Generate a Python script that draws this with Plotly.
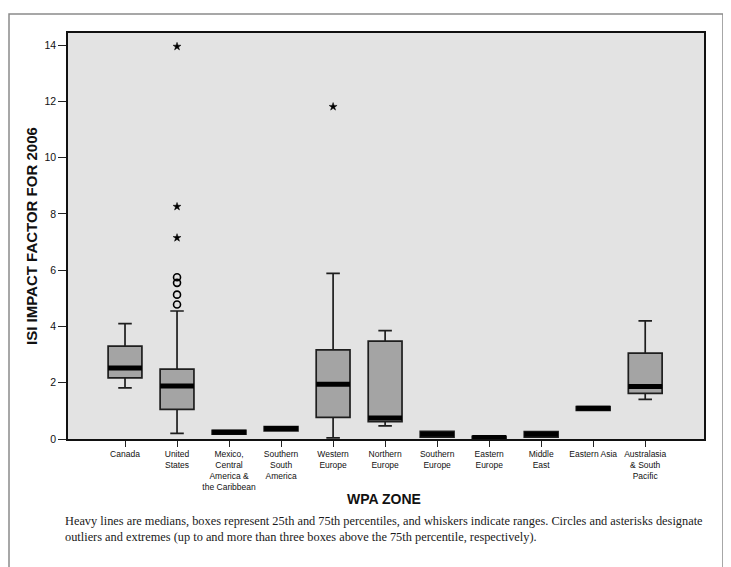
import plotly.graph_objects as go

# ---- data ----
zones = ["Canada", "United<br>States", "Mexico,<br>Central<br>America &<br>the Caribbean",
         "Southern<br>South<br>America", "Western<br>Europe", "Northern<br>Europe",
         "Southern<br>Europe", "Eastern<br>Europe", "Middle<br>East", "Eastern Asia",
         "Australasia<br>& South<br>Pacific"]
lower = [1.82, 0.20, 0.17, 0.29, 0.04, 0.47, 0.07, 0.00, 0.07, 1.02, 1.41]
q1 = [2.17, 1.05, 0.17, 0.29, 0.77, 0.62, 0.07, 0.00, 0.07, 1.02, 1.62]
median = [2.52, 1.88, 0.24, 0.37, 1.95, 0.75, 0.17, 0.05, 0.17, 1.09, 1.87]
q3 = [3.30, 2.48, 0.31, 0.44, 3.17, 3.48, 0.27, 0.09, 0.26, 1.15, 3.05]
upper = [4.10, 4.55, 0.31, 0.44, 5.89, 3.85, 0.27, 0.09, 0.26, 1.15, 4.20]

# outliers (circles) and extremes (asterisks): (zone index, value)
outlier_zone = [1, 1, 1, 1]
outlier_val = [5.75, 5.55, 5.13, 4.78]
extreme_zone = [1, 1, 1, 4]
extreme_val = [13.95, 8.26, 7.15, 11.81]

y_ticks = [0, 2, 4, 6, 8, 10, 12, 14]

caption = ("Heavy lines are medians, boxes represent 25th and 75th percentiles, and whiskers indicate ranges. "
           "Circles and asterisks designate<br>outliers and extremes (up to and more than three boxes above "
           "the 75th percentile, respectively).")

# ---- figure ----
BOX_W = 0.65
idx = list(range(len(zones)))

fig = go.Figure()
fig.add_trace(go.Box(
    x=idx, q1=q1, median=median, q3=q3, lowerfence=lower, upperfence=upper,
    width=BOX_W, whiskerwidth=0.4, fillcolor="#a4a4a4",
    line=dict(color="#1e1e1e", width=1.7), boxpoints=False, hoverinfo="skip",
    showlegend=False))

mx, my = [], []
for i, m in zip(idx, median):
    mx += [i - BOX_W / 2, i + BOX_W / 2, None]
    my += [m, m, None]
fig.add_trace(go.Scatter(x=mx, y=my, mode="lines", line=dict(color="black", width=5),
                         showlegend=False, hoverinfo="skip"))

fig.add_trace(go.Scatter(x=outlier_zone, y=outlier_val, mode="markers",
                         marker=dict(symbol="circle-open", size=7, color="black",
                                     line=dict(width=1.6, color="black")),
                         showlegend=False, hoverinfo="skip"))
fig.add_trace(go.Scatter(x=extreme_zone, y=extreme_val, mode="markers",
                         marker=dict(symbol="star", size=6, color="black",
                                     line=dict(width=0.5, color="black")),
                         showlegend=False, hoverinfo="skip"))

# page body has an 8px margin; lay out in page pixels and shift
OFF = 8
W, H = 731 - OFF, 567 - OFF
L, R, T, B = 68 - OFF, 704 - OFF, 33 - OFF, 439 - OFF


def px(x):
    return (x - OFF - L) / (R - L)


def py(y):
    return (B - (y - OFF)) / (B - T)


fig.update_layout(
    width=W, height=H,
    margin=dict(l=L, r=W - R, t=T, b=H - B, pad=0),
    paper_bgcolor="white", plot_bgcolor="#e3e3e3",
    font=dict(family="Liberation Sans, Arial, sans-serif", color="#111"),
    xaxis=dict(range=[-1.096, 11.13], tickmode="array", tickvals=idx, ticktext=zones,
               showgrid=False, zeroline=False, showline=True, linecolor="#111",
               linewidth=1.6, mirror=True, ticks="outside", ticklen=6, tickwidth=1.2,
               tickcolor="#222", tickfont=dict(size=8.5, color="#111")),
    yaxis=dict(range=[0, 14.43], tickmode="array", tickvals=y_ticks,
               showgrid=False, zeroline=False, showline=True, linecolor="#111",
               linewidth=1.6, mirror=True, ticks="outside", ticklen=8, tickwidth=1.2,
               tickcolor="#222", tickfont=dict(size=10.5, color="#111")),
    shapes=[dict(type="rect", xref="paper", yref="paper",
                 x0=px(9), x1=px(723), y0=py(580), y1=py(14),
                 line=dict(color="#8a8a8a", width=1.5), fillcolor="rgba(0,0,0,0)",
                 layer="below")],
    annotations=[
        dict(text="<b>ISI IMPACT FACTOR FOR 2006</b>", xref="paper", yref="paper",
             x=px(31), y=0.5, textangle=-90, showarrow=False,
             font=dict(size=15, color="#111"), xanchor="center", yanchor="middle"),
        dict(text="<b>WPA ZONE</b>", xref="paper", yref="paper",
             x=px(384), y=py(499), showarrow=False,
             font=dict(size=14, color="#111"), xanchor="center", yanchor="middle"),
        dict(text=caption, xref="paper", yref="paper", x=px(63), y=py(529),
             showarrow=False, align="left", xanchor="left", yanchor="middle",
             font=dict(family="Liberation Serif, Times New Roman, serif", size=12.35,
                       color="#1a1a1a")),
    ],
)

fig.write_html("out.html")
